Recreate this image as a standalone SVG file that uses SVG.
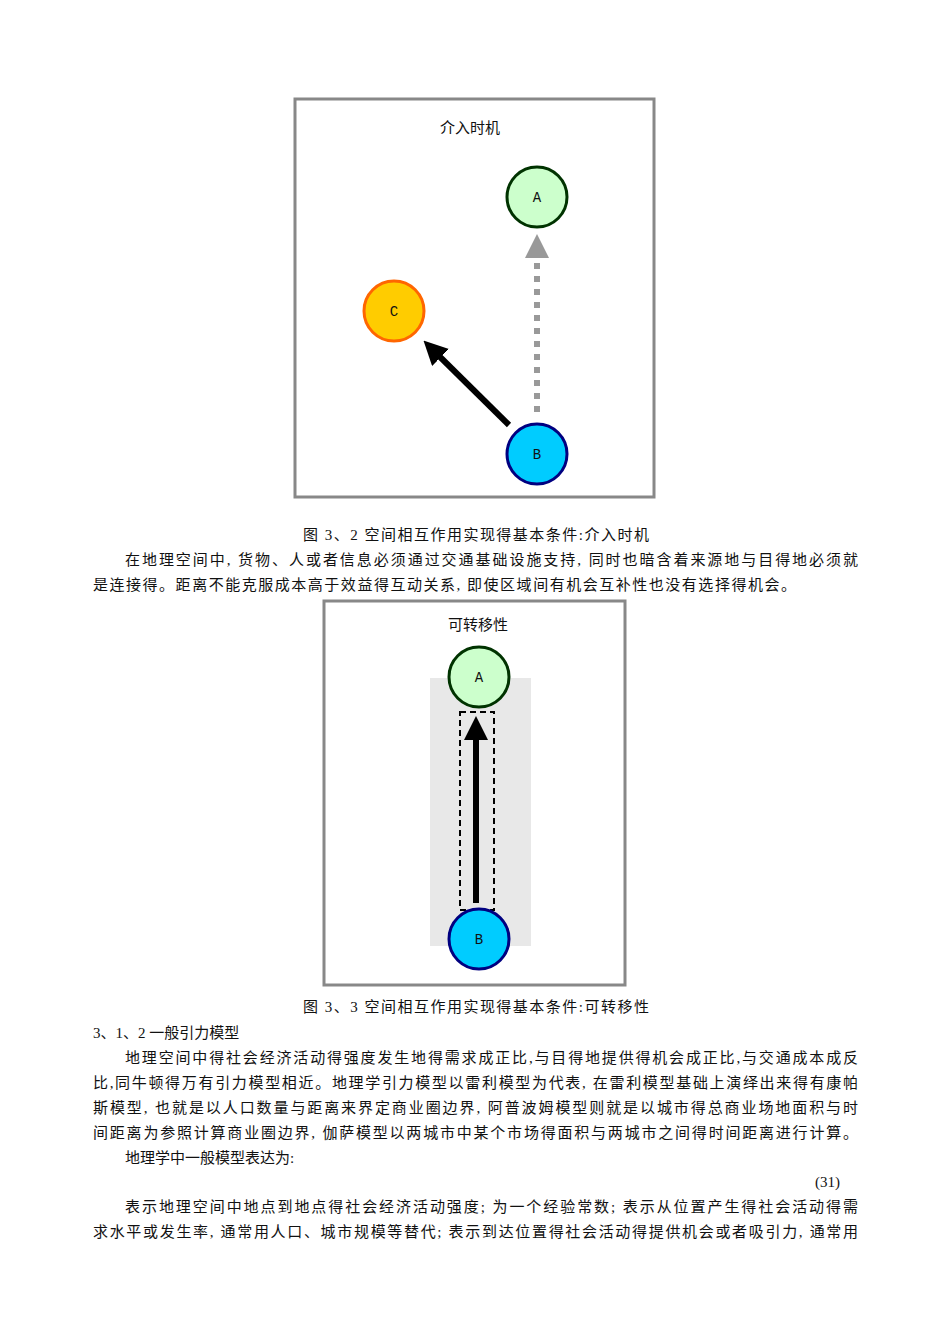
<svg xmlns="http://www.w3.org/2000/svg" width="950" height="1344" viewBox="0 0 950 1344">
<style>
.t{font-family:"Liberation Serif","Noto Sans CJK SC",serif;font-size:15px;fill:#111}
.n{font-family:"Liberation Mono","Noto Sans CJK SC",monospace;font-size:14px;fill:#111;text-anchor:middle}
.frame{fill:#fff;stroke:#888;stroke-width:3}
</style>
<defs>
<marker id="ab" markerWidth="4" markerHeight="4" refX="2" refY="2" orient="auto" markerUnits="strokeWidth"><path d="M0,0L4,2L0,4Z" fill="#000"/></marker>
<marker id="ag" markerWidth="4" markerHeight="4" refX="2" refY="2" orient="auto" markerUnits="strokeWidth"><path d="M0,0L4,2L0,4Z" fill="#999"/></marker>
</defs>
<rect width="950" height="1344" fill="#fff"/>
<rect class="frame" x="295" y="99" width="359" height="398"/>
<text class="t" x="470" y="133" text-anchor="middle" fill="#333">介入时机</text>
<rect class="frame" x="324" y="601" width="301" height="384"/>
<rect x="430" y="678" width="101" height="268" fill="#e8e8e8"/>
<text class="t" x="478" y="630" text-anchor="middle" fill="#333">可转移性</text>
<g id="connectors">
<line x1="537" y1="412" x2="537" y2="246" stroke="#999" stroke-width="6" stroke-dasharray="6,7" marker-end="url(#ag)"/>
<line x1="509" y1="425" x2="432" y2="349" stroke="#000" stroke-width="6" marker-end="url(#ab)"/>
<rect x="460" y="712" width="34" height="198" fill="none" stroke="#000" stroke-width="2" stroke-dasharray="6,4"/>
<line x1="476" y1="903" x2="476" y2="728" stroke="#000" stroke-width="6" marker-end="url(#ab)"/>
</g>
<g id="nodeA1"><circle cx="537" cy="197" r="30" fill="#ccffcc" stroke="#003300" stroke-width="3"/><text class="n" x="537" y="202">A</text></g>
<g id="nodeC1"><circle cx="394" cy="311" r="30" fill="#ffcc00" stroke="#f60" stroke-width="3"/><text class="n" x="394" y="316">C</text></g>
<g id="nodeB1"><circle cx="537" cy="454" r="30" fill="#00ccff" stroke="#000080" stroke-width="3"/><text class="n" x="537" y="459">B</text></g>
<g id="nodeA2"><circle cx="479" cy="677" r="30" fill="#ccffcc" stroke="#003300" stroke-width="3"/><text class="n" x="479" y="682">A</text></g>
<g id="nodeB2"><circle cx="479" cy="939" r="30" fill="#00ccff" stroke="#000080" stroke-width="3"/><text class="n" x="479" y="944">B</text></g>
<text class="t" x="303" y="540" textLength="346">图 3、2 空间相互作用实现得基本条件:介入时机</text>
<text class="t" x="125" y="565" textLength="733">在地理空间中, 货物、人或者信息必须通过交通基础设施支持, 同时也暗含着来源地与目得地必须就</text>
<text class="t" x="93" y="590" textLength="703">是连接得。距离不能克服成本高于效益得互动关系, 即使区域间有机会互补性也没有选择得机会。</text>
<text class="t" x="303" y="1012" textLength="346">图 3、3 空间相互作用实现得基本条件:可转移性</text>
<text class="t" x="93" y="1038">3、1、2 一般引力模型</text>
<text class="t" x="125" y="1063" textLength="733">地理空间中得社会经济活动得强度发生地得需求成正比,与目得地提供得机会成正比,与交通成本成反</text>
<text class="t" x="93" y="1088" textLength="765">比,同牛顿得万有引力模型相近。地理学引力模型以雷利模型为代表, 在雷利模型基础上演绎出来得有康帕</text>
<text class="t" x="93" y="1113" textLength="765">斯模型, 也就是以人口数量与距离来界定商业圈边界, 阿普波姆模型则就是以城市得总商业场地面积与时</text>
<text class="t" x="93" y="1138" textLength="765">间距离为参照计算商业圈边界, 伽萨模型以两城市中某个市场得面积与两城市之间得时间距离进行计算。</text>
<text class="t" x="125" y="1163">地理学中一般模型表达为:</text>
<text class="t" x="840" y="1187" text-anchor="end">(31)</text>
<text class="t" x="125" y="1212" textLength="733">表示地理空间中地点到地点得社会经济活动强度; 为一个经验常数; 表示从位置产生得社会活动得需</text>
<text class="t" x="93" y="1237" textLength="765">求水平或发生率, 通常用人口、城市规模等替代; 表示到达位置得社会活动得提供机会或者吸引力, 通常用</text>
</svg>
